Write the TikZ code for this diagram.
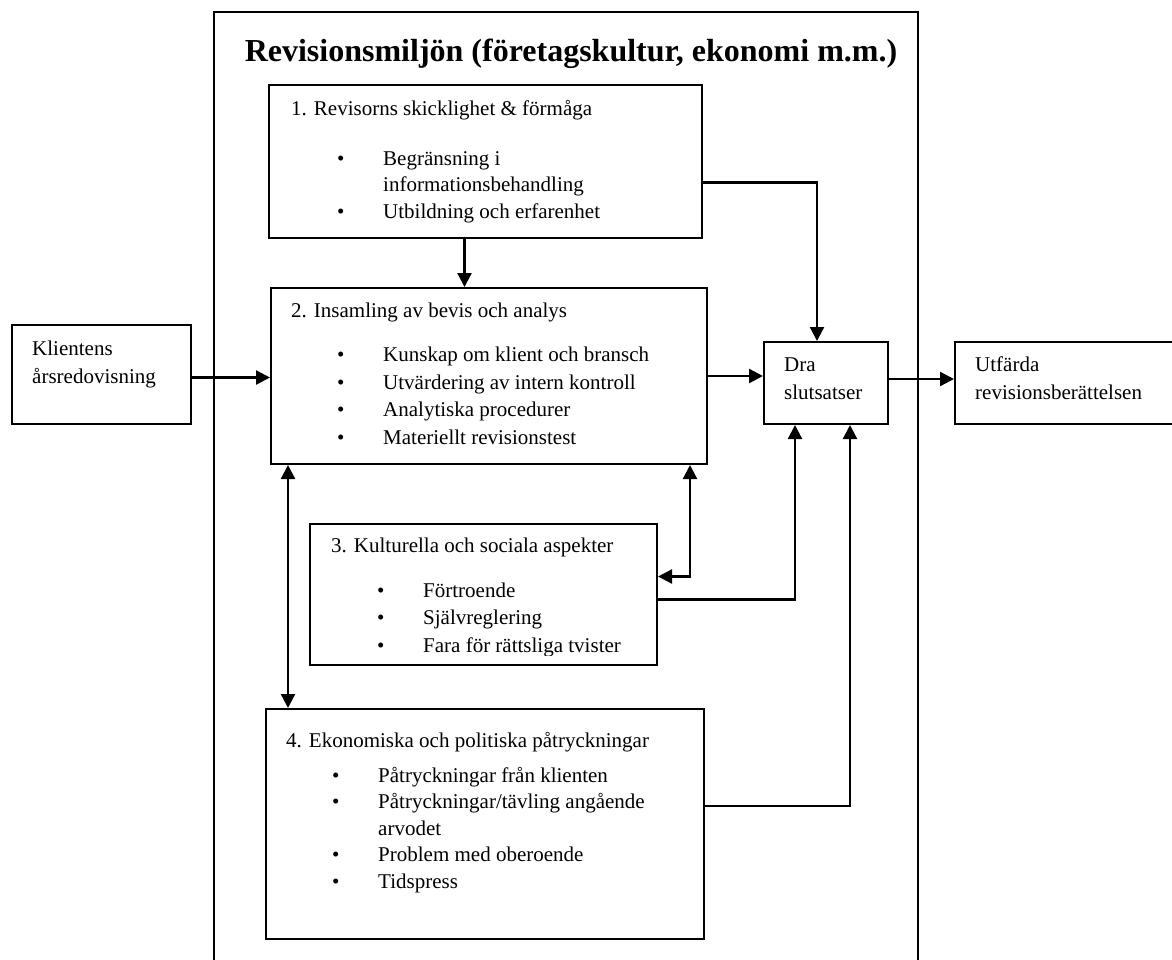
\documentclass[tikz,border=0pt]{standalone}
\usepackage{fontspec}
\setmainfont{Liberation Serif}
\usetikzlibrary{positioning,calc,arrows.meta}
\newcommand{\pkt}[1]{\makebox[92pt][l]{\hspace{46pt}\textbullet}#1}
\newcommand{\fort}[1]{\hspace*{92pt}#1}

\begin{document}
\begin{tikzpicture}[x=1pt,y=-1pt,auto]
                    \tikzstyle{ruta}=[draw,line width=2pt,rectangle,anchor=north west,inner sep=0]
                    \tikzstyle{txt}=[anchor=north west,inner sep=0,align=left,font=\fontsize{21}{26.5}\selectfont]
                    \tikzstyle{pil}=[line width=2.3pt,-{Triangle[length=14pt,width=14pt]}]
                    \tikzstyle{dpil}=[line width=2.3pt,{Triangle[length=14pt,width=14pt]}-{Triangle[length=14pt,width=14pt]}]
                    \path[use as bounding box,clip] (0,0) rectangle (1172,959);
                    {
                        \draw[line width=1.6pt] (214,1000) -- (214,12) -- (918,12) -- (918,1000);
                        \node[anchor=base,inner sep=0,font=\fontsize{32}{38}\selectfont\bfseries] (titel) at (571,61) {Revisionsmiljön (företagskultur, ekonomi m.m.)};

                        \node[ruta,minimum width=179,minimum height=99] (kli) at (11,324) {};
                        \node[ruta,minimum width=433,minimum height=153] (rev) at (268,84) {};
                        \node[ruta,minimum width=436,minimum height=176] (ins) at (270,287) {};
                        \node[ruta,minimum width=124,minimum height=82] (dra) at (763,341) {};
                        \node[ruta,minimum width=260,minimum height=82] (utf) at (954,341) {};
                        \node[ruta,minimum width=347,minimum height=141] (kul) at (309,523) {};
                        \node[ruta,minimum width=438,minimum height=230] (eko) at (265,708) {};

                        \node[txt,below right=12.3pt and 21pt of kli.north west] (klitxt) {\strut Klientens\\[1.5pt] årsredovisning};
                        \node[txt,below right=11.3pt and 21pt of dra.north west] (dratxt) {\strut Dra\\[1.5pt] slutsatser};
                        \node[txt,below right=11.3pt and 21pt of utf.north west] (utftxt) {\strut Utfärda\\[1.5pt] revisionsberättelsen};

                        \node[txt,below right=12.3pt and 23pt of rev.north west] (revtxt) {\strut 1. Revisorns skicklighet \& förmåga\\[23.5pt]
                            \pkt{Begränsning i}\\ \fort{informationsbehandling}\\ \pkt{Utbildning och erfarenhet}};
                        \node[txt,below right=11.9pt and 21pt of ins.north west] (instxt) {\strut 2. Insamling av bevis och analys\\[17.5pt]
                            \pkt{Kunskap om klient och bransch}\\[1pt] \pkt{Utvärdering av intern kontroll}\\[1pt]
                            \pkt{Analytiska procedurer}\\[1pt] \pkt{Materiellt revisionstest}};
                        \begin{scope}
                            \clip (kul.north west) rectangle ([yshift=11pt]kul.south east);
                            \node[txt,below right=10.3pt and 22pt of kul.north west] (kultxt) {\strut 3. Kulturella och sociala aspekter\\[18.5pt]
                                \pkt{Förtroende}\\[1pt] \pkt{Självreglering}\\[1pt] \pkt{Fara för rättsliga tvister}};
                        \end{scope}
                        \node[txt,below right=21pt and 21pt of eko.north west] (ekotxt) {\strut 4. Ekonomiska och politiska påtryckningar\\[8pt]
                            \pkt{Påtryckningar från klienten}\\ \pkt{Påtryckningar/tävling angående}\\ \fort{arvodet}\\
                            \pkt{Problem med oberoende}\\ \pkt{Tidspress}};

                        \path[pil]
                            ([yshift=-3pt]kli.east) edge ([yshift=-3pt]kli.east -| ins.west)
                            (ins.east) edge (ins.east -| dra.west)
                            ([yshift=4pt]dra.east) edge ([yshift=4pt]dra.east -| utf.west)
                            ([xshift=-21pt]rev.south) edge ([xshift=-21pt]rev.south |- ins.north);

                        \draw[pil] ([yshift=-21pt]rev.east) -| ([xshift=-9pt]dra.north);
                        \draw[dpil] ([xshift=18pt]ins.south west) -- ([xshift=18pt]ins.south west |- eko.north);
                        \draw[dpil] ([xshift=-18pt]ins.south east) |- ([yshift=18pt]kul.east);
                        \draw[pil] ([yshift=-5pt]kul.east) -| ([xshift=-31pt]dra.south);
                        \draw[pil] ([yshift=18pt]eko.east) -| ([xshift=24pt]dra.south);
                    }
\end{tikzpicture}
\end{document}
